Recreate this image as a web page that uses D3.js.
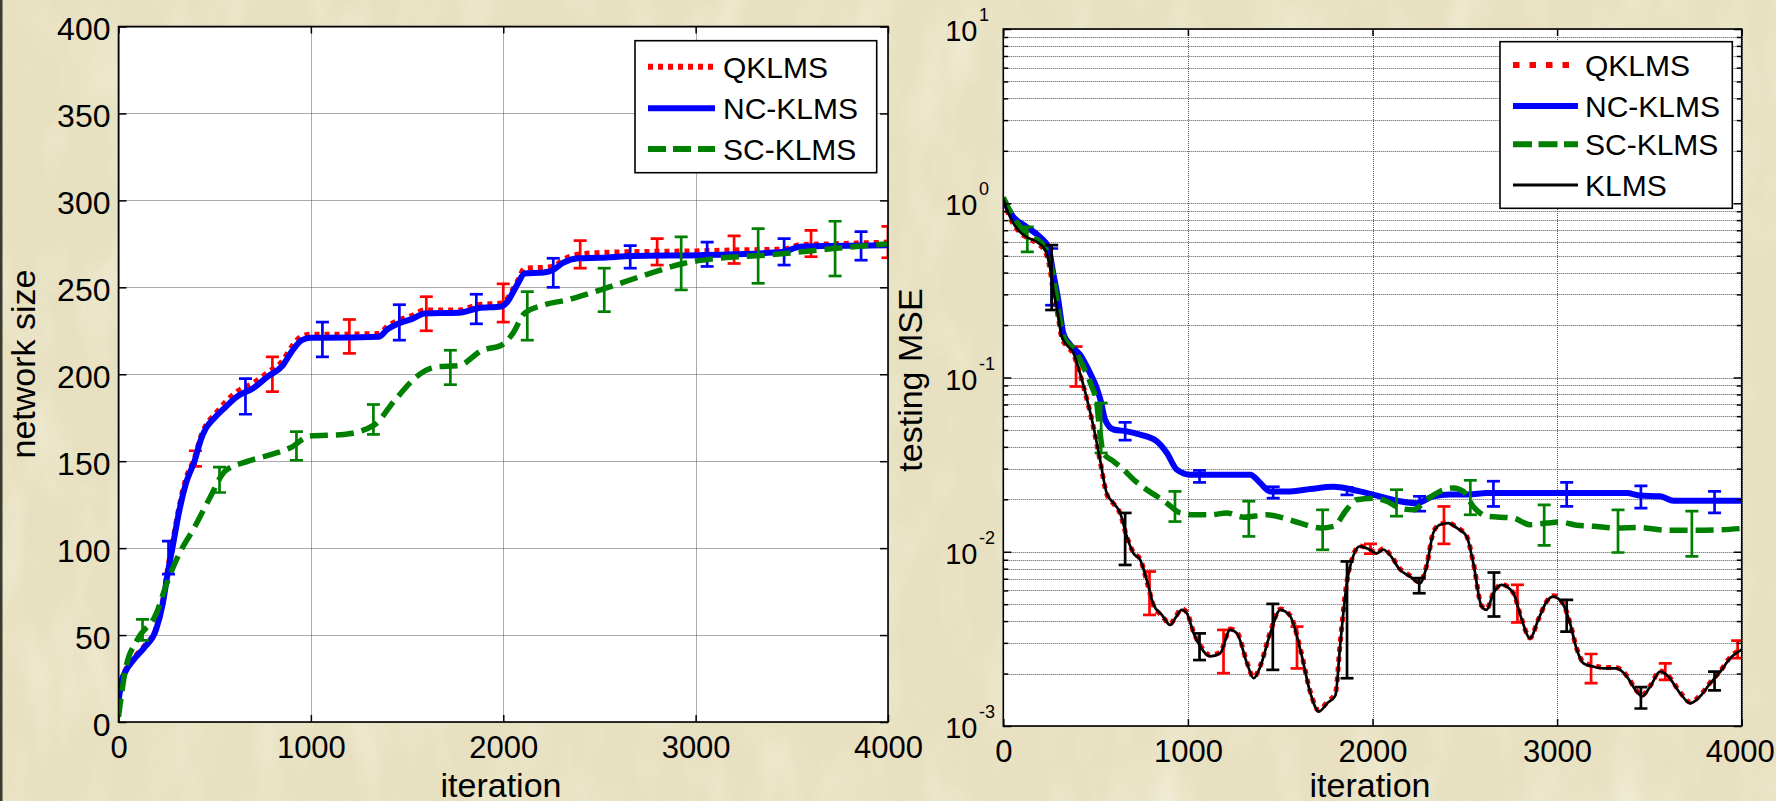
<!DOCTYPE html>
<html>
<head>
<meta charset="utf-8">
<script src="https://cdn.jsdelivr.net/npm/d3@7/dist/d3.min.js"></script>
<style>
  html, body { margin: 0; padding: 0; background: #e9e2c2; }
  svg { display: block; }
  text { font-family: "Liberation Sans", Arial, Helvetica, sans-serif; fill: #000; }
</style>
</head>
<body>
<script>
// ---------- data: network size vs. iteration ----------
const sizeTicks = [0, 50, 100, 150, 200, 250, 300, 350, 400];
const iterTicks = [0, 1000, 2000, 3000, 4000];
const legendLeft = ["QKLMS", "NC-KLMS", "SC-KLMS"];
const legendRight = ["QKLMS", "NC-KLMS", "SC-KLMS", "KLMS"];

const sizeQKLMS = [[0,12],[20,26],[36,30],[80,37],[136,44],[195,54],[230,70],[255,88],[285,106],[315,124],[350,140],[395,152],[430,165],[455,171],[500,177],[555,184],[614,190],[700,195],[774,201],[853,208],[900,216],[953,222],[1000,223],[1072,223],[1352,223.5],[1400,228],[1452,231],[1530,234],[1591,237],[1770,237],[1870,240],[1990,241],[2030,245],[2050,249],[2080,255],[2110,261],[2210,261.5],[2260,262],[2310,266],[2390,269],[2500,270],[2676,270.5],[3023,271],[3200,271.5],[3456,272],[3542,274.5],[3700,275],[4000,276]];
const sizeNCKLMS = [[0,12],[20,25],[36,29],[80,36],[136,43],[195,53],[230,68],[255,85],[285,103],[315,121],[350,137],[395,150],[430,163],[455,169],[500,175],[555,181],[614,187],[700,192],[774,198.5],[853,205],[900,213],[953,219.6],[1000,221],[1072,221],[1352,221.5],[1400,226],[1452,229],[1530,232],[1591,235],[1770,235.4],[1870,238],[1990,239],[2030,243],[2050,247],[2080,253],[2110,258],[2210,258.5],[2260,260],[2310,264],[2390,266.7],[2500,267],[2676,268],[3023,268.5],[3200,269],[3456,270.4],[3542,273.3],[3700,273.8],[4000,274.2]];
const sizeSCKLMS = [[0,3],[36,30],[96,47],[195,62],[255,81],[315,96.6],[395,112],[475,129],[555,144.4],[674,150],[800,154],[893,157.7],[993,164.4],[1172,165.4],[1332,171],[1432,184.5],[1571,200.4],[1651,204.2],[1770,205],[1890,213.8],[1990,216.7],[2050,223.5],[2110,235],[2210,239.8],[2330,242.7],[2490,248],[2763,258],[2936,263.7],[3109,266.6],[3369,268.5],[3716,272.3],[4000,275]];

// error bars (iteration, low, high)
const sizeErrQ  = { at: [400,800,1200,1600,2000,2400,2800,3200,3600,4000],
                    lo: [147,190,212,225,230,261,262.8,263.7,267.6,267],
                    hi: [156,210,231.5,244.6,252,276.9,278,279.6,282.8,285] };
const sizeErrNC = { at: [260,660,1060,1460,1860,2260,2660,3060,3460,3860],
                    lo: [85,177,210,219.6,229,250,261,262,262.8,265.6],
                    hi: [104,197.5,230,240,246,266.7,274,276,278,282] };
const sizeErrSC = { at: [125,525,925,1325,1725,2125,2525,2925,3325,3725],
                    lo: [47,132,150.5,165.4,194,219.6,236,248.5,252.3,256.5],
                    hi: [59,146.6,167,182.6,213.8,247.5,261,279,283.8,288] };

// ---------- data: testing MSE vs. iteration ----------
const mseDecades = [-3, -2, -1, 0, 1];

const mseKLMS = [[0,1.06],[18,0.93],[45,0.8],[90,0.685],[127,0.64],[181,0.60],[226,0.54],[253,0.43],[271,0.318],[298,0.224],[316,0.172],[343,0.154],[380,0.138],[416,0.1055],[443,0.083],[488,0.0525],[524,0.0338],[560,0.0217],[597,0.019],[633,0.0167],[669,0.01225],[705,0.0098],[741,0.009],[777,0.0069],[814,0.00496],[859,0.00434],[904,0.0038],[931,0.00415],[967,0.00464],[994,0.00444],[1031,0.00341],[1067,0.00286],[1121,0.00251],[1175,0.00262],[1229,0.00356],[1266,0.0034],[1320,0.00229],[1356,0.00188],[1392,0.00219],[1446,0.0034],[1501,0.00464],[1555,0.00425],[1609,0.00274],[1664,0.00154],[1709,0.00121],[1754,0.00135],[1799,0.0015],[1826,0.003],[1860,0.0065],[1895,0.0094],[1931,0.01074],[1986,0.01027],[2022,0.0098],[2058,0.0103],[2094,0.0096],[2148,0.00789],[2202,0.00722],[2257,0.0066],[2293,0.00824],[2329,0.0128],[2365,0.0143],[2410,0.0146],[2456,0.0137],[2510,0.01225],[2546,0.0086],[2591,0.00485],[2618,0.00464],[2655,0.00578],[2700,0.00646],[2763,0.00578],[2808,0.0041],[2853,0.00319],[2899,0.0041],[2944,0.00519],[2980,0.00553],[3034,0.00496],[3070,0.00389],[3107,0.00274],[3143,0.00229],[3197,0.00219],[3251,0.00214],[3323,0.00214],[3378,0.00192],[3432,0.00157],[3459,0.00148],[3504,0.00168],[3558,0.00205],[3595,0.00196],[3667,0.00154],[3721,0.00135],[3775,0.00148],[3830,0.00176],[3884,0.00205],[3938,0.00245],[4000,0.00274]];
const mseQKLMS = [[0,1.04],[18,0.92],[45,0.79],[90,0.68],[127,0.635],[181,0.59],[226,0.53],[253,0.42],[271,0.31],[298,0.22],[316,0.17],[343,0.152],[380,0.136],[416,0.104],[443,0.082],[488,0.052],[524,0.0334],[560,0.0215],[597,0.0189],[633,0.0166],[669,0.0122],[705,0.0099],[741,0.0091],[777,0.0068],[814,0.0049],[859,0.0043],[904,0.00385],[931,0.0042],[967,0.0047],[994,0.0045],[1031,0.00345],[1067,0.0029],[1121,0.00255],[1175,0.00265],[1229,0.0036],[1266,0.00345],[1320,0.00232],[1356,0.0019],[1392,0.00222],[1446,0.00345],[1501,0.0047],[1555,0.0043],[1609,0.00278],[1664,0.00156],[1709,0.00123],[1754,0.00137],[1799,0.00155],[1826,0.0031],[1860,0.0066],[1895,0.0095],[1931,0.0108],[1986,0.0103],[2022,0.0099],[2058,0.0104],[2094,0.0097],[2148,0.008],[2202,0.0073],[2257,0.0067],[2293,0.0083],[2329,0.0129],[2365,0.0144],[2410,0.0147],[2456,0.0138],[2510,0.0123],[2546,0.0087],[2591,0.0049],[2618,0.0047],[2655,0.0058],[2700,0.0065],[2763,0.0058],[2808,0.0041],[2853,0.0032],[2899,0.0041],[2944,0.0052],[2980,0.0056],[3034,0.005],[3070,0.0039],[3107,0.00277],[3143,0.00232],[3197,0.00222],[3251,0.00217],[3323,0.00216],[3378,0.00194],[3432,0.00159],[3459,0.0015],[3504,0.0017],[3558,0.00207],[3595,0.00198],[3667,0.00156],[3721,0.00137],[3775,0.0015],[3830,0.00178],[3884,0.00207],[3938,0.00248],[4000,0.00278]];
const mseNCKLMS = [[0,1.04],[54,0.835],[127,0.73],[199,0.64],[244,0.56],[271,0.395],[298,0.278],[325,0.18],[362,0.154],[416,0.135],[470,0.106],[506,0.087],[530,0.072],[551,0.0574],[597,0.0503],[669,0.0491],[741,0.047],[832,0.043],[886,0.0369],[940,0.0296],[1012,0.0277],[1338,0.0277],[1392,0.0248],[1446,0.0222],[1555,0.0222],[1664,0.0229],[1787,0.0236],[1931,0.0222],[2040,0.0208],[2148,0.0195],[2239,0.019],[2329,0.0208],[2419,0.0213],[2520,0.0213],[2618,0.0217],[3378,0.0217],[3450,0.021],[3558,0.0208],[3631,0.0196],[4000,0.0196]];
const mseSCKLMS = [[0,1.08],[54,0.835],[127,0.67],[217,0.575],[253,0.47],[280,0.332],[307,0.214],[334,0.164],[380,0.147],[434,0.115],[479,0.0889],[506,0.0714],[524,0.048],[542,0.0369],[597,0.033],[651,0.0296],[705,0.026],[777,0.0227],[832,0.0208],[886,0.019],[958,0.0167],[1031,0.0163],[1121,0.0163],[1211,0.0167],[1302,0.0158],[1428,0.0163],[1519,0.0156],[1609,0.0146],[1718,0.0137],[1790,0.014],[1859,0.0174],[1913,0.0199],[2004,0.0203],[2076,0.0195],[2148,0.0178],[2221,0.0174],[2293,0.0199],[2365,0.0222],[2437,0.0232],[2492,0.0222],[2546,0.0182],[2618,0.016],[2763,0.0156],[2853,0.0143],[2944,0.0146],[3016,0.0148],[3107,0.0142],[3197,0.014],[3323,0.0137],[3432,0.0138],[3595,0.0133],[3800,0.0133],[4000,0.0136]];

const mseErrQ  = { at: [394,792,1193,1591,1989,2387,2785,3184,3586,3978],
                   lo: [0.0888,0.00434,0.00201,0.00214,0.00975,0.0111,0.00393,0.00176,0.00184,0.00245],
                   hi: [0.1505,0.0077,0.00356,0.00372,0.0111,0.0182,0.00646,0.00259,0.00229,0.00309] };
const mseErrNC = { at: [262,660,1063,1462,1862,2255,2655,3052,3454,3853],
                   lo: [0.26,0.0437,0.025,0.0203,0.0212,0.0171,0.0182,0.0182,0.0178,0.0167],
                   hi: [0.55,0.0553,0.0293,0.0236,0.0234,0.0208,0.0254,0.025,0.0239,0.0222] };
const mseErrSC = { at: [130,530,930,1330,1730,2130,2530,2930,3330,3730],
                   lo: [0.526,0.0369,0.0149,0.01225,0.01026,0.016,0.0163,0.01087,0.0099,0.0094],
                   hi: [0.732,0.0714,0.0222,0.0195,0.0174,0.0227,0.0257,0.0186,0.0174,0.0171] };
const mseErrK  = { at: [262,660,1063,1460,1862,2253,2658,3052,3454,3853],
                   lo: [0.244,0.0084,0.00239,0.0021,0.00188,0.00578,0.00425,0.00348,0.00126,0.0016],
                   hi: [0.575,0.0167,0.0034,0.00502,0.0088,0.00706,0.0076,0.0053,0.00167,0.00205] };

// ---------- drawing ----------
const W = 1776, H = 801;
const svg = d3.select("body").append("svg").attr("width", W).attr("height", H);
const defs = svg.append("defs");

// parchment background: warm base, soft mottling, light streaks and fine grain
const mottle = defs.append("filter").attr("id", "mottle").attr("x", 0).attr("y", 0).attr("width", "100%").attr("height", "100%");
mottle.append("feTurbulence").attr("type", "fractalNoise").attr("baseFrequency", "0.006 0.014").attr("numOctaves", 4).attr("seed", 7);
mottle.append("feColorMatrix").attr("type", "matrix")
  .attr("values", "0 0 0 0 0.78  0 0 0 0 0.72  0 0 0 0 0.52  1.6 0 0 0 -0.72");
const light = defs.append("filter").attr("id", "light").attr("x", 0).attr("y", 0).attr("width", "100%").attr("height", "100%");
light.append("feTurbulence").attr("type", "fractalNoise").attr("baseFrequency", "0.02 0.008").attr("numOctaves", 3).attr("seed", 21);
light.append("feColorMatrix").attr("type", "matrix")
  .attr("values", "0 0 0 0 0.98  0 0 0 0 0.97  0 0 0 0 0.88  0 1.8 0 0 -0.85");
const grain = defs.append("filter").attr("id", "grain").attr("x", 0).attr("y", 0).attr("width", "100%").attr("height", "100%");
grain.append("feTurbulence").attr("type", "fractalNoise").attr("baseFrequency", "0.55").attr("numOctaves", 2).attr("seed", 3);
grain.append("feColorMatrix").attr("type", "matrix")
  .attr("values", "0 0 0 0 0.6  0 0 0 0 0.56  0 0 0 0 0.4  0.9 0 0 0 -0.3");

svg.append("rect").attr("width", W).attr("height", H).attr("fill", "#e9e2c2");
svg.append("rect").attr("width", W).attr("height", H).attr("filter", "url(#mottle)").attr("opacity", 0.3);
svg.append("rect").attr("width", W).attr("height", H).attr("filter", "url(#light)").attr("opacity", 0.5);
svg.append("rect").attr("width", W).attr("height", H).attr("filter", "url(#grain)").attr("opacity", 0.25);
svg.append("rect").attr("x", 0).attr("y", 0).attr("width", 2.5).attr("height", H).attr("fill", "#3b3a30");

const COLORS = { q: "#ff0000", nc: "#0000ff", sc: "#008000", k: "#000000" };
const STYLE = {
  q:  { color: COLORS.q,  width: 5,   dash: "5,5" },
  nc: { color: COLORS.nc, width: 6,   dash: null },
  sc: { color: COLORS.sc, width: 5.5, dash: "18,8" },
  k:  { color: COLORS.k,  width: 2.7, dash: null }
};

function drawPanel(opt) {
  const { id, x, y, top, bottom, left, right } = opt;
  const g = svg.append("g");
  defs.append("clipPath").attr("id", "clip-" + id)
    .append("rect").attr("x", left).attr("y", top).attr("width", right - left).attr("height", bottom - top);

  g.append("rect").attr("x", left).attr("y", top).attr("width", right - left).attr("height", bottom - top).attr("fill", "#fff");

  // grid
  const grid = g.append("g").attr("stroke", "#555").attr("stroke-width", 1).attr("stroke-dasharray", "1,1").attr("fill", "none");
  opt.gridY.forEach(v => {
    const yy = Math.round(y(v)) + 0.5;
    grid.append("line").attr("x1", left).attr("x2", right).attr("y1", yy).attr("y2", yy);
  });
  iterTicks.forEach(v => {
    const xx = Math.round(x(v)) + 0.5;
    grid.append("line").attr("x1", xx).attr("x2", xx).attr("y1", top).attr("y2", bottom);
  });

  // series with error bars
  const plot = g.append("g").attr("clip-path", "url(#clip-" + id + ")");
  const line = d3.line().x(d => x(d[0])).y(d => y(d[1])).curve(d3.curveMonotoneX);
  opt.series.forEach(s => {
    const st = STYLE[s.key];
    plot.append("path").datum(s.data).attr("d", line)
      .attr("fill", "none").attr("stroke", st.color).attr("stroke-width", st.width)
      .attr("stroke-linejoin", "round")
      .attr("stroke-dasharray", st.dash);
    const eb = plot.append("g").attr("stroke", st.color).attr("stroke-width", 2.7).attr("fill", "none");
    s.err.at.forEach((it, i) => {
      const xx = x(it), y1 = y(s.err.lo[i]), y2 = y(s.err.hi[i]);
      eb.append("line").attr("x1", xx).attr("x2", xx).attr("y1", y1).attr("y2", y2);
      eb.append("line").attr("x1", xx - 6.5).attr("x2", xx + 6.5).attr("y1", y1).attr("y2", y1);
      eb.append("line").attr("x1", xx - 6.5).attr("x2", xx + 6.5).attr("y1", y2).attr("y2", y2);
    });
  });

  // inward ticks on all four sides
  const tickG = g.append("g");
  const axB = d3.axisBottom(x).tickValues(iterTicks).tickSizeInner(-7).tickSizeOuter(0).tickPadding(14).tickFormat(d3.format("d"));
  const axT = d3.axisTop(x).tickValues(iterTicks).tickSizeInner(-7).tickSizeOuter(0).tickFormat("");
  const b = tickG.append("g").attr("transform", `translate(0,${bottom})`).call(axB);
  tickG.append("g").attr("transform", `translate(0,${top})`).call(axT);
  b.selectAll("text").attr("font-size", 31).attr("font-family", "Liberation Sans, Arial, sans-serif").attr("fill", "#000");
  if (opt.lastTickShift) b.selectAll(".tick:last-of-type text").attr("dx", opt.lastTickShift);
  opt.yAxes(tickG);
  tickG.selectAll(".domain").remove();
  tickG.selectAll(".tick line").attr("stroke", "#000").attr("stroke-width", 1.5);

  // box
  g.append("rect").attr("x", left).attr("y", top).attr("width", right - left).attr("height", bottom - top)
    .attr("fill", "none").attr("stroke", "#000").attr("stroke-width", 1.6);

  // axis titles
  g.append("text").attr("x", opt.xTitleX).attr("y", 797).attr("text-anchor", "middle").attr("font-size", 34).text("iteration");
  g.append("text").attr("transform", `translate(${opt.yTitle.x},${opt.yTitle.y}) rotate(-90)`)
    .attr("text-anchor", "middle").attr("font-size", 34).text(opt.yTitle.text);

  // legend
  const L = opt.legend;
  const lg = g.append("g");
  lg.append("rect").attr("x", L.x).attr("y", L.y).attr("width", L.w).attr("height", L.h)
    .attr("fill", "#fff").attr("stroke", "#000").attr("stroke-width", 1.6);
  L.names.forEach((name, i) => {
    const key = L.keys[i], st = STYLE[key], ry = L.rows[i];
    lg.append("line").attr("x1", L.lx1).attr("x2", L.lx2).attr("y1", ry).attr("y2", ry)
      .attr("stroke", st.color).attr("stroke-width", key === "k" ? 3 : 6)
      .attr("stroke-dasharray", L.dash[key] || null);
    lg.append("text").attr("x", L.tx).attr("y", ry + 11).attr("font-size", 30).text(name);
  });
}

// left panel: network size
const xL = d3.scaleLinear().domain([0, 4000]).range([118.5, 888]);
const yL = d3.scaleLinear().domain([0, 400]).range([722, 26.5]);
drawPanel({
  id: "size", x: xL, y: yL, top: 26.5, bottom: 722, left: 118.5, right: 888,
  gridY: sizeTicks,
  series: [
    { key: "q",  data: sizeQKLMS,  err: sizeErrQ },
    { key: "nc", data: sizeNCKLMS, err: sizeErrNC },
    { key: "sc", data: sizeSCKLMS, err: sizeErrSC }
  ],
  yAxes: (tg) => {
    const a = tg.append("g").attr("transform", "translate(118.5,0)")
      .call(d3.axisLeft(yL).tickValues(sizeTicks).tickSizeInner(-8).tickSizeOuter(0).tickPadding(8).tickFormat(d3.format("d")));
    a.selectAll("text").attr("font-size", 32).attr("dy", "0.42em").attr("fill", "#000").attr("font-family", "Liberation Sans, Arial, sans-serif");
    tg.append("g").attr("transform", "translate(888,0)")
      .call(d3.axisRight(yL).tickValues(sizeTicks).tickSizeInner(-8).tickSizeOuter(0).tickFormat(""));
  },
  xTitleX: 501,
  yTitle: { x: 35, y: 364, text: "network size" },
  legend: { x: 635, y: 40.7, w: 241.7, h: 132, rows: [66.7, 108.3, 149], lx1: 648, lx2: 715, tx: 723,
            names: legendLeft, keys: ["q", "nc", "sc"], dash: { q: "5,5", sc: "18,7" } }
});

// right panel: testing MSE (log scale)
const xR = d3.scaleLinear().domain([0, 4000]).range([1003.3, 1741.7]);
const yR = d3.scaleLog().domain([1e-3, 10]).range([726, 29]);
const majorMSE = mseDecades.map(k => Math.pow(10, k));
const minorMSE = [];
mseDecades.slice(0, -1).forEach(k => { for (let m = 2; m <= 9; m++) minorMSE.push(m * Math.pow(10, k)); });

drawPanel({
  id: "mse", x: xR, y: yR, top: 29, bottom: 726, left: 1003.3, right: 1741.7,
  gridY: majorMSE.concat(minorMSE),
  lastTickShift: -2,
  series: [
    { key: "q",  data: mseQKLMS,  err: mseErrQ },
    { key: "nc", data: mseNCKLMS, err: mseErrNC },
    { key: "sc", data: mseSCKLMS, err: mseErrSC },
    { key: "k",  data: mseKLMS,   err: mseErrK }
  ],
  yAxes: (tg) => {
    tg.append("g").attr("transform", "translate(1003.3,0)")
      .call(d3.axisLeft(yR).tickValues(majorMSE).tickSizeInner(-8).tickSizeOuter(0).tickFormat(""));
    tg.append("g").attr("transform", "translate(1003.3,0)")
      .call(d3.axisLeft(yR).tickValues(minorMSE).tickSizeInner(-5).tickSizeOuter(0).tickFormat(""));
    tg.append("g").attr("transform", "translate(1741.7,0)")
      .call(d3.axisRight(yR).tickValues(majorMSE).tickSizeInner(-8).tickSizeOuter(0).tickFormat(""));
    tg.append("g").attr("transform", "translate(1741.7,0)")
      .call(d3.axisRight(yR).tickValues(minorMSE).tickSizeInner(-5).tickSizeOuter(0).tickFormat(""));
    // power-of-ten labels
    const lab = tg.append("g");
    mseDecades.forEach(k => {
      const ty = yR(Math.pow(10, k));
      lab.append("text").attr("x", 977.5).attr("y", ty + 12).attr("text-anchor", "end").attr("font-size", 29).text("10");
      lab.append("text").attr("x", 979).attr("y", ty - 8).attr("font-size", 18).text(String(k));
    });
  },
  xTitleX: 1370,
  yTitle: { x: 922, y: 380, text: "testing MSE" },
  legend: { x: 1500, y: 41.7, w: 232.3, h: 166.6, rows: [65, 106, 144.3, 185], lx1: 1513, lx2: 1578, tx: 1585,
            names: legendRight, keys: ["q", "nc", "sc", "k"], dash: { q: "6.5,10", sc: "19,6.5" } }
});
</script>
</body>
</html>
